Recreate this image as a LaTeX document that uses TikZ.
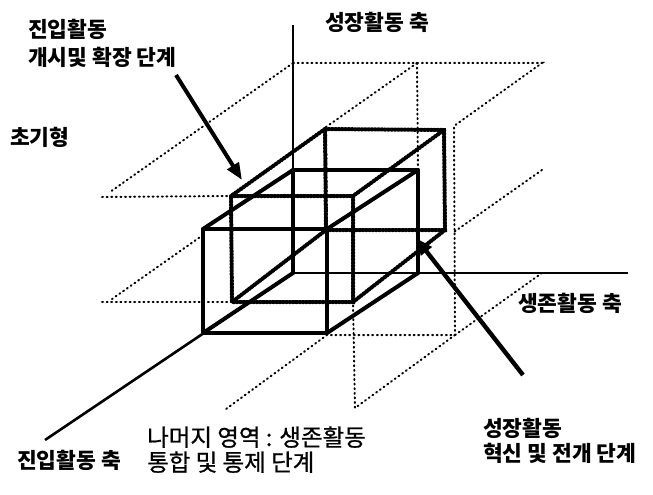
\documentclass[tikz,border=0pt]{standalone}
\usepackage{fontspec}
\newfontfamily\kr{Noto Sans CJK KR}
\newfontfamily\krm{Noto Sans CJK KR}[FakeBold=0.8]
\usetikzlibrary{arrows.meta}
\begin{document}
\begin{tikzpicture}[x=1pt,y=-1pt,
  thindot/.style={line width=2pt, dash pattern=on 1pt off 3.6pt, line cap=round},
  bead/.style={line width=4pt, dash pattern=on 1.4pt off 1.9pt, line cap=round},
  solidbox/.style={line width=4pt, line cap=round, line join=round},
  axisline/.style={line width=2.6pt},
  lblb/.style={font=\kr\bfseries\fontsize{21.5}{26}\selectfont, anchor=base west, inner sep=0pt},
  lblr/.style={font=\krm\fontsize{23.5}{28}\selectfont, anchor=base west, inner sep=0pt},
  pointer/.style={line width=4pt, -{Triangle[length=17pt,width=13pt]}}
]
\useasboundingbox (0,0) rectangle (653,495);
\fill[white] (0,0) rectangle (653,495);

% axes
\coordinate (O) at (293,273);
\coordinate (Vtop) at (293,25);
\coordinate (Hend) at (628,273);
\coordinate (Eend) at (45,440);

% solid box
\coordinate (BTL) at (293,170);
\coordinate (BTR) at (418,170);
\coordinate (BBR) at (418,273);
\coordinate (FTL) at (203,229);
\coordinate (FTR) at (327,229);
\coordinate (FBL) at (203,333);
\coordinate (FBR) at (327,333);

% beaded box
\coordinate (DBTL) at (325,129);
\coordinate (DBTR) at (444,130);
\coordinate (DBBR) at (445,230);
\coordinate (DBBL) at (326,230);
\coordinate (DFTL) at (231,196);
\coordinate (DFTR) at (353,196);
\coordinate (DFBR) at (353,302);
\coordinate (DFBL) at (232,302);

% thin dotted envelope points
\coordinate (T0) at (293,63);
\coordinate (T1) at (417,63);
\coordinate (T2) at (542,63);
\coordinate (T3) at (454,126);
\coordinate (T4) at (326,127);
\coordinate (T5) at (542,170);
\coordinate (T6) at (454,232);
\coordinate (T7) at (542,273);
\coordinate (T8) at (455,335);
\coordinate (T9) at (327,335);
\coordinate (T10) at (226,409);
\coordinate (T11) at (355,408);
\coordinate (L1) at (110,192);
\coordinate (L2) at (102,197);
\coordinate (L3) at (203,235);
\coordinate (L4) at (112,299);
\coordinate (L5) at (102,302);

% thin dotted lines
\draw[thindot] (T0) -- (T2) -- (T3) -- (T8);
\draw[thindot] (T1) -- (T4) -- (FTR);
\draw[thindot] (T1) -- (BTR);
\draw[thindot] (T5) -- (T6);
\draw[thindot] (T7) -- (T8) -- (T9) -- (T10);
\draw[thindot] (T8) -- (T11) -- (DFBR);
\draw[thindot] (T0) -- (L1);
\draw[thindot] (L2) -- (DFTL);
\draw[thindot] (L3) -- (L4);
\draw[thindot] (L5) -- (DFBL);

% beaded box
\draw[bead] (DBTL) -- (DBTR) -- (DBBR) -- (DBBL) -- cycle;
\draw[bead] (DFTL) -- (DFTR) -- (DFBR) -- (DFBL) -- cycle;
\draw[bead] (DBTL) -- (DFTL);
\draw[bead] (DBTR) -- (DFTR);
\draw[bead] (DBBR) -- (DFBR);
\draw[bead] (DBBL) -- (DFBL);

% axes
\draw[axisline] (Vtop) -- (O) -- (Hend);
\draw[axisline] (O) -- (Eend);

% solid box
\draw[solidbox] (FTL) -- (FTR) -- (FBR) -- (FBL) -- cycle;
\draw[solidbox] (O) -- (BTL) -- (BTR) -- (BBR);
\draw[solidbox] (BTL) -- (FTL);
\draw[solidbox] (BTR) -- (FTR);
\draw[solidbox] (BBR) -- (FBR);
\draw[solidbox] (O) -- (FBL);

% pointers
\coordinate (A1s) at (176,75);
\coordinate (A1e) at (242,180);
\coordinate (A2s) at (523,375);
\coordinate (A2e) at (416,238);
\draw[pointer] (A1s) -- (A1e);
\draw[pointer, line width=4.4pt] (A2s) -- (A2e);

% labels
\node[lblb] (entry1) at (28,38) {진입활동};
\node[lblb] (entry2) at (28,66) {개시및 확장 단계};
\node[lblb] (proto) at (10,145) {초기형};
\node[lblb] (growax) at (325,31) {성장활동 축};
\node[lblb] (survax) at (518,311) {생존활동 축};
\node[lblb] (grow1) at (483,436) {성장활동};
\node[lblb] (grow2) at (483,461) {혁신 및 전개 단계};
\node[lblb] (entryax) at (17,468) {진입활동 축};
\node[lblr] (rest1) at (147,446) {나머지 영역 : 생존활동};
\node[lblr] (rest2) at (147,471) {통합 및 통제 단계};
\end{tikzpicture}
\end{document}
